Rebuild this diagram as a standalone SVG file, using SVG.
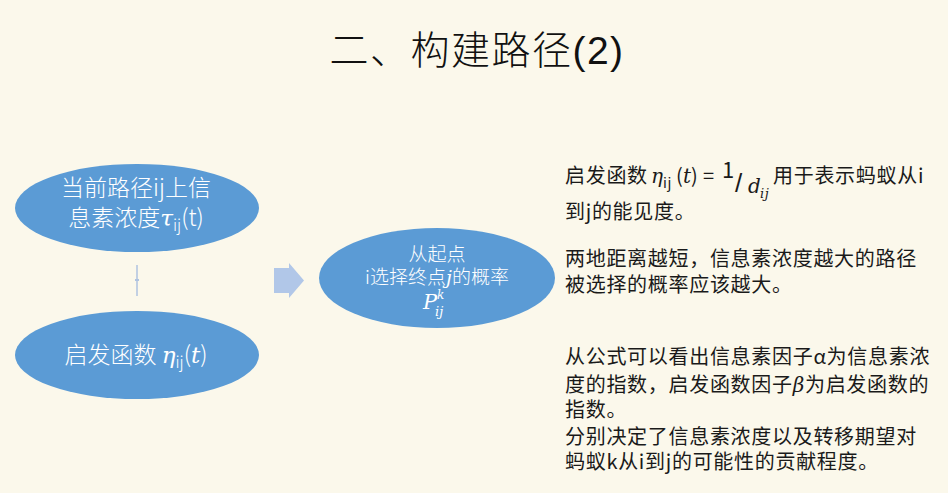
<svg xmlns="http://www.w3.org/2000/svg" width="948" height="493" viewBox="0 0 948 493">
  <style>
    .cjk { font-family: "Noto Sans CJK SC", "Noto Sans", sans-serif; }
    .math { font-family: "DejaVu Serif", "Liberation Serif", serif; font-style: italic; }
    .up { font-family: "Liberation Sans", "Noto Sans", sans-serif; }
    .node { fill: #5B9BD5; }
    .inner { fill: #FFFFFF; font-weight: 300; }
    .body { fill: #1A1A1A; font-size: 20px; letter-spacing: 0.7px; }
  </style>
  <rect x="0" y="0" width="948" height="493" fill="#FBF8EB"/>

  <!-- title -->
  <text class="cjk" x="477" y="64" font-size="39" font-weight="300" text-anchor="middle" fill="#111" letter-spacing="1.5">二、构建路径<tspan class="up">(2)</tspan></text>

  <!-- connectors -->
  <g id="connectors">
    <line x1="137" y1="265" x2="137" y2="296" stroke="#AFC3E0" stroke-width="1.5"/>
    <rect x="135" y="279" width="4" height="2" fill="#AFC3E0"/>
    <polygon points="274,268 289,268 289,263 304,280.5 289,298 289,293 274,293" fill="#B1C7E8"/>
  </g>

  <!-- pheromone node -->
  <g id="node-pheromone">
    <ellipse class="node" cx="137" cy="208" rx="122" ry="44"/>
    <text class="cjk inner" x="136" y="196" font-size="23" text-anchor="middle">当前路径ij上信</text>
    <text class="cjk inner" x="136" y="226" font-size="23" text-anchor="middle">息素浓度<tspan class="math">τ</tspan><tspan font-size="16" dy="5">ij</tspan><tspan dy="-5">(t)</tspan></text>
  </g>

  <!-- heuristic node -->
  <g id="node-heuristic">
    <ellipse class="node" cx="137" cy="355" rx="122" ry="44"/>
    <text class="cjk inner" x="136" y="363" font-size="23" text-anchor="middle">启发函数 <tspan class="math">η</tspan><tspan font-size="16" dy="5">ij</tspan><tspan dy="-5">(</tspan><tspan class="math">t</tspan>)</text>
  </g>

  <!-- probability node -->
  <g id="node-probability">
    <ellipse class="node" cx="437" cy="278" rx="118" ry="50"/>
    <text class="cjk inner" x="437" y="261" font-size="19" text-anchor="middle">从起点</text>
    <text class="cjk inner" x="437" y="284" font-size="19" text-anchor="middle">i选择终点<tspan class="math">j</tspan>的概率</text>
    <text class="math inner" x="423" y="309" font-size="21">P<tspan font-size="12" x="437" y="299">k</tspan><tspan font-size="13" x="435" y="316">ij</tspan></text>
  </g>

  <!-- notes -->
  <g id="note-heuristic">
    <text class="cjk body" x="565" y="183">启发函数<tspan class="math" x="651">η</tspan><tspan x="663" dy="5" style="font-size:14px">ij</tspan><tspan x="676" dy="-5">(</tspan><tspan class="math" x="683">t</tspan><tspan x="691">)</tspan><tspan x="703">=</tspan><tspan x="722" y="178" style="font-size:22px">1</tspan><tspan class="up" x="735" y="192" style="font-size:26px">/</tspan><tspan class="math" x="748" y="193">d</tspan><tspan class="math" x="760" y="198" style="font-size:13px">ij</tspan><tspan x="773" y="183">用于表示蚂蚁从i</tspan></text>
    <text class="cjk body" x="565" y="219">到j的能见度。</text>
  </g>

  <g id="note-distance">
    <text class="cjk body" x="565" y="266">两地距离越短，信息素浓度越大的路径</text>
    <text class="cjk body" x="565" y="292">被选择的概率应该越大。</text>
  </g>

  <g id="note-exponents">
    <text class="cjk body" x="565" y="364">从公式可以看出信息素因子α为信息素浓</text>
    <text class="cjk body" x="565" y="392">度的指数，启发函数因子<tspan class="math">β</tspan>为启发函数的</text>
    <text class="cjk body" x="565" y="417">指数。</text>
    <text class="cjk body" x="565" y="444">分别决定了信息素浓度以及转移期望对</text>
    <text class="cjk body" x="565" y="469">蚂蚁k从i到j的可能性的贡献程度。</text>
  </g>
</svg>
